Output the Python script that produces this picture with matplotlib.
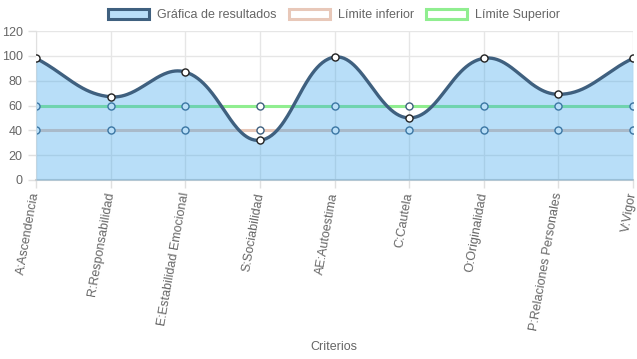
import numpy as np
import matplotlib.pyplot as plt
from matplotlib.patches import Patch

plt.rcParams['font.family'] = ['Liberation Sans', 'DejaVu Sans']

# datos
criterios = ['A:Ascendencia', 'R:Responsabilidad', 'E:Estabilidad Emocional',
             'S:Sociabilidad', 'AE:Autoestima', 'C:Cautela', 'O:Originalidad',
             'P:Relaciones Personales', 'V:Vigor']
resultados = [98, 67, 87, 32, 99, 50, 98, 69, 98]
limite_inferior = [40, 40, 40, 40, 40, 40, 40, 40, 40]
limite_superior = [60, 60, 60, 60, 60, 60, 60, 60, 60]

c_linea = '#3f607f'
c_relleno = (54/255, 162/255, 235/255, 0.35)
c_inf = '#e8c8b9'
c_sup = '#90ee90'
gris = '#666666'


def curva(ys, sx=74.6, sy=1.242, tension=0.4, n=60):
    # curva tipo Chart.js (splineCurve) calculada en escala de pixeles
    pts = np.array([[i * sx, y * sy] for i, y in enumerate(ys)], dtype=float)
    m = len(pts)
    prev_c, next_c = [], []
    for i in range(m):
        p0 = pts[i - 1] if i > 0 else pts[i]
        p1 = pts[i]
        p2 = pts[i + 1] if i < m - 1 else pts[i]
        d01 = np.hypot(*(p1 - p0))
        d12 = np.hypot(*(p2 - p1))
        tot = d01 + d12
        s01 = d01 / tot if tot else 0
        s12 = d12 / tot if tot else 0
        prev_c.append(p1 - tension * s01 * (p2 - p0))
        next_c.append(p1 + tension * s12 * (p2 - p0))
    xs, yy = [], []
    t = np.linspace(0, 1, n)[:, None]
    for i in range(m - 1):
        a, b, c, d = pts[i], next_c[i], prev_c[i + 1], pts[i + 1]
        seg = (1 - t)**3 * a + 3 * (1 - t)**2 * t * b + 3 * (1 - t) * t**2 * c + t**3 * d
        xs.extend(seg[:, 0] / sx)
        yy.extend(seg[:, 1] / sy)
    return np.array(xs), np.array(yy)


fig = plt.figure(figsize=(6.37, 3.59), dpi=100)
ax = fig.add_axes([36/637, 1 - 180/359, (633 - 36)/637, (180 - 31)/359])

x = np.arange(len(criterios))

# limites (debajo del relleno)
ax.plot(x, limite_inferior, color=c_inf, lw=2.2, zorder=2)
ax.plot(x, limite_superior, color=c_sup, lw=2.2, zorder=2)
ax.scatter(x, limite_inferior, s=26, facecolor='white', edgecolor=c_linea, lw=1, zorder=2.5)
ax.scatter(x, limite_superior, s=26, facecolor='white', edgecolor=c_linea, lw=1, zorder=2.5)

cx, cy = curva(resultados)
ax.fill_between(cx, 0, cy, color=c_relleno, lw=0, zorder=3)
ax.plot(cx, cy, color=c_linea, lw=2.4, zorder=4)
ax.scatter(x, resultados, s=26, facecolor='white', edgecolor='#222222', lw=1, zorder=5)

ax.set_xlim(0, len(criterios) - 1)
ax.set_ylim(0, 120)
ax.set_yticks(range(0, 121, 20))
ax.set_xticks(x)
ax.set_xticklabels(criterios, rotation=80, ha='right', va='center', rotation_mode='anchor')
ax.tick_params(axis='both', colors='#e0e0e0', labelcolor=gris, labelsize=9, length=6, width=1)
ax.tick_params(axis='x', pad=3)
ax.grid(True, color='#e6e6e6', lw=1, zorder=0)
ax.set_axisbelow(True)
for s in ['top', 'right']:
    ax.spines[s].set_visible(False)
ax.spines['left'].set_color('#e0e0e0')
ax.spines['bottom'].set_color('#cfcfcf')
ax.spines['bottom'].set_linewidth(1.5)

fig.text(334/637, 1 - 347/359, 'Criterios', ha='center', va='center', color=gris, fontsize=9)

handles = [Patch(facecolor='#b9def8', edgecolor=c_linea, lw=2.2, label='Gráfica de resultados'),
           Patch(facecolor='white', edgecolor=c_inf, lw=2.2, label='Límite inferior'),
           Patch(facecolor='white', edgecolor=c_sup, lw=2.2, label='Límite Superior')]
fig.legend(handles=handles, loc='center', bbox_to_anchor=(334/637, 1 - 15/359), ncol=3,
           frameon=False, fontsize=9, labelcolor=gris, handlelength=3.3, handleheight=0.9,
           handletextpad=0.6, columnspacing=1.0)

plt.savefig('out.png', dpi=100)
